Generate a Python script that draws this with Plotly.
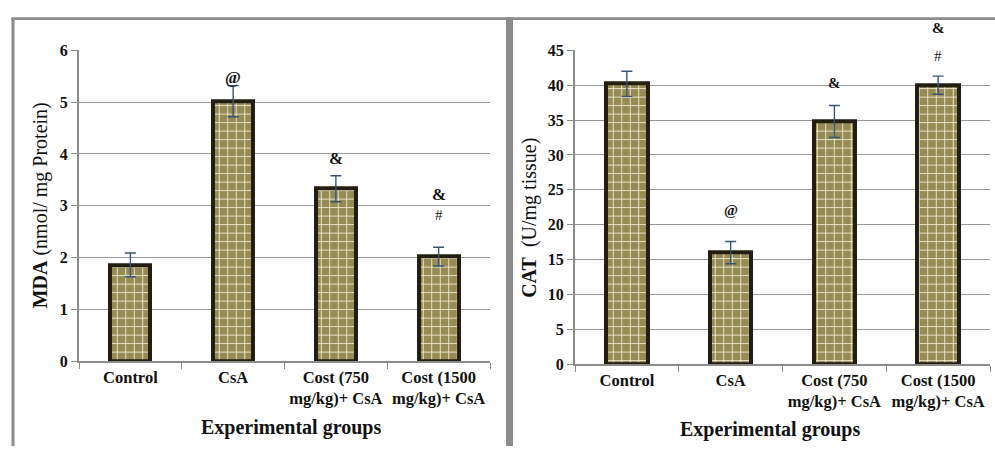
import plotly.graph_objects as go

# Experimental groups (shared by both panels)
groups = ["Control", "CsA", "Cost (750<br>mg/kg)+ CsA", "Cost (1500<br>mg/kg)+ CsA"]

# Malondialdehyde (nmol/ mg Protein): mean and SE
mda_mean = [1.86, 5.02, 3.33, 2.02]
mda_err = [0.23, 0.30, 0.25, 0.18]

# Catalase (U/mg tissue): mean and SE
cat_mean = [40.2, 16.0, 34.8, 40.0]
cat_err = [1.8, 1.6, 2.3, 1.3]

# Significance marks per group (listed bottom to top)
mda_sig = [[], ["@"], ["&"], ["#", "&"]]
cat_sig = [[], ["@"], ["&"], ["#", "&"]]

W, H = 995, 455
SERIF = "Liberation Serif"
GRID = "#9a9a9a"
FRAME = "#8c8c8c"


def px_x(v):
    return v / W


def px_y(v):
    return 1 - v / H


fig = go.Figure()

bar_style = dict(
    color="#968a55",
    line=dict(color="#221e12", width=4),
    pattern=dict(shape="+", size=8.5, solidity=0.2,
                 fgcolor="#efe9d0", bgcolor="#968a55", fillmode="replace"),
)
err_style = dict(type="data", visible=True, color="#3b5674", thickness=1.4, width=5.5)

fig.add_trace(go.Bar(x=groups, y=mda_mean, width=0.39, marker=bar_style,
                     error_y=dict(array=mda_err, **err_style),
                     xaxis="x", yaxis="y", showlegend=False))
fig.add_trace(go.Bar(x=groups, y=cat_mean, width=0.40, marker=bar_style,
                     error_y=dict(array=cat_err, **err_style),
                     xaxis="x2", yaxis="y2", showlegend=False))

tickfont = dict(family=SERIF, size=16.5, color="#111111", weight="bold")
xcommon = dict(type="category", showgrid=False, showline=True, linecolor=FRAME,
               linewidth=1.5, ticks="outside", tickson="boundaries", ticklen=6,
               tickcolor=FRAME, tickfont=tickfont, fixedrange=True)
ycommon = dict(showgrid=True, gridcolor=GRID, gridwidth=1.2, showline=True,
               linecolor=FRAME, linewidth=2, ticks="outside", ticklen=6,
               tickcolor=FRAME, tickfont=dict(family=SERIF, size=16, color="#111111", weight="bold"),
               zeroline=False, fixedrange=True)

fig.update_layout(
    width=W, height=H,
    margin=dict(l=0, r=0, t=0, b=0),
    paper_bgcolor="white", plot_bgcolor="white",
    bargap=0,
    xaxis=dict(domain=[px_x(79), px_x(490)], anchor="y", **xcommon),
    yaxis=dict(domain=[px_y(367), px_y(44)], anchor="x", range=[0, 6], dtick=1, **ycommon),
    xaxis2=dict(domain=[px_x(575), px_x(990)], anchor="y2", **xcommon),
    yaxis2=dict(domain=[px_y(370), px_y(44)], anchor="x2", range=[0, 45], dtick=5, **ycommon),
)

# Panel frames
frames = [
    (11.5, 10, 14.5, 455),   # left edge of left panel
    (11.5, 9.5, 995, 12.5),  # top edge across both panels
    (506, 9.5, 513, 455),    # divider between panels
]
for x0, y0, x1, y1 in frames:
    fig.add_shape(type="rect", xref="paper", yref="paper",
                  x0=px_x(x0), x1=px_x(x1), y0=px_y(y1), y1=px_y(y0),
                  fillcolor=FRAME, line=dict(width=0), layer="above")

# Axis titles
titles = [
    ("<b>Experimental groups</b>", 291, 436, 0),
    ("<b>Experimental groups</b>", 770, 438, 0),
    ("<b>MDA</b> (nmol/ mg Protein)", 40, 205, -90),
    ("<b>CAT</b>  (U/mg tissue)", 530, 218, -90),
]
for text, cx, cy, ang in titles:
    fig.add_annotation(text=text, xref="paper", yref="paper", x=px_x(cx), y=px_y(cy),
                       showarrow=False, textangle=ang, xanchor="center", yanchor="middle",
                       font=dict(family=SERIF, size=20, color="#111111"))

# Significance marks above the error bars (pixel offsets above each bar's upper whisker)
sig_offsets = {
    "y": [[], [8], [17], [32, 53]],
    "y2": [[], [31], [22], [20, 48]],
}
sig_sizes = {"y": 17, "y2": 15}
for axis, means, errs, sigs in (("y", mda_mean, mda_err, mda_sig), ("y2", cat_mean, cat_err, cat_sig)):
    xref = "x" if axis == "y" else "x2"
    for i, marks in enumerate(sigs):
        for mark, shift in zip(marks, sig_offsets[axis][i]):
            size = 15 if mark == "#" else sig_sizes[axis]
            fig.add_annotation(text=mark, xref=xref, yref=axis, x=groups[i], y=means[i] + errs[i],
                               yshift=shift, showarrow=False, yanchor="middle",
                               font=dict(family=SERIF, size=size, color="#111111",
                                         weight="normal" if mark == "#" else "bold"))

fig.write_html("out.html")
